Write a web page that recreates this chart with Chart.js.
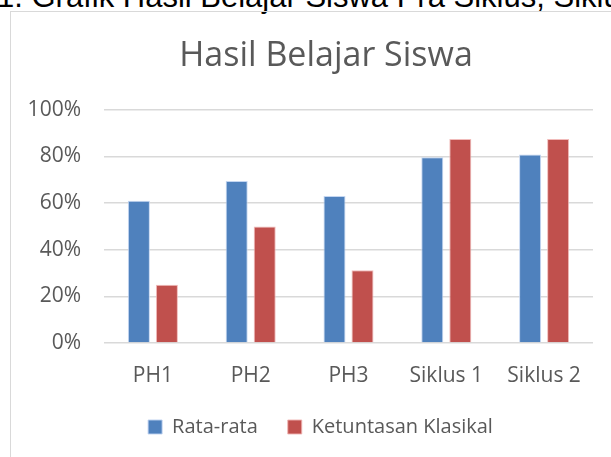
<!DOCTYPE html>
<html>
<head>
<meta charset="utf-8">
<script src="https://cdn.jsdelivr.net/npm/chart.js@4/dist/chart.umd.min.js"></script>
<style>
  html, body { margin: 0; padding: 0; background: #fff; overflow: hidden; }
  body { width: 611px; height: 457px; position: relative; }
  #caption {
    position: absolute; left: -3px; top: -19px; white-space: nowrap;
    font-family: "Liberation Sans", Arial, sans-serif; font-size: 31px; line-height: 31px; color: #000;
  }
  #frame {
    position: absolute; left: 10px; top: 11px; width: 700px; height: 500px;
    border-left: 1px solid #d9d9d9; border-top: 1px solid #d9d9d9;
  }
  #wrap { position: absolute; left: 0; top: 0; width: 642px; height: 457px; }
</style>
</head>
<body>
<div id="caption">1. Grafik Hasil Belajar Siswa Pra Siklus, Siklus I dan Siklus II</div>
<div id="frame"></div>
<div id="wrap"><canvas id="hasil-chart"></canvas></div>
<script>
// Data (fractions, shown as %)
const categories = ['PH1', 'PH2', 'PH3', 'Siklus 1', 'Siklus 2'];
const rataRata = [0.61, 0.695, 0.63, 0.797, 0.808];
const ketuntasan = [0.25, 0.50, 0.3125, 0.875, 0.875];
const yTicks = [0, 0.2, 0.4, 0.6, 0.8, 1.0];

const textColor = '#595959';
const fontFamily = '"Open Sans", "Noto Sans", sans-serif';

let hasilChart = null;

// nudge the legend a little to the left, like in the original
const legendShift = {
  id: 'legendShift',
  afterLayout(chart) {
    chart.legend.left -= 11;
  }
};

function initChart() {
  const ctx = document.getElementById('hasil-chart').getContext('2d');
  hasilChart = new Chart(ctx, {
    type: 'bar',
    data: {
      labels: categories,
      datasets: [{
        label: 'Rata-rata',
        data: rataRata,
        backgroundColor: '#4F81BD',
        borderColor: 'rgba(190,210,240,0.9)',
        borderWidth: 1
      }, {
        label: 'Ketuntasan Klasikal',
        data: ketuntasan,
        backgroundColor: '#C0504D',
        borderColor: 'rgba(240,180,178,0.9)',
        borderWidth: 1
      }]
    },
    options: {
      responsive: true,
      maintainAspectRatio: false,
      animation: false,
      datasets: {
        bar: { categoryPercentage: 0.573, barPercentage: 0.786 }
      },
      layout: { padding: { left: 10, right: 0, top: 0, bottom: 10 } },
      scales: {
        x: {
          afterFit: function(scale) { scale.height = 44; },
          grid: { display: false, drawTicks: false },
          border: { display: false },
          ticks: { color: textColor, font: { family: fontFamily, size: 21 }, padding: 20, maxRotation: 0 }
        },
        y: {
          min: 0,
          max: 1,
          afterFit: function(scale) { scale.width = 94; },
          afterBuildTicks: function(scale) { scale.ticks = yTicks.map(v => ({ value: v })); },
          grid: { color: '#d9d9d9', lineWidth: 1.5, drawTicks: false },
          border: { display: false },
          ticks: {
            color: textColor,
            font: { family: fontFamily, size: 21 },
            padding: 23,
            callback: function(value) { return Math.round(value * 100) + '%'; }
          }
        },
        // empty right-hand axis that only keeps space free right of the plot
        yRight: {
          position: 'right',
          display: true,
          afterFit: function(scale) { scale.width = 49; },
          grid: { display: false, drawTicks: false },
          border: { display: false },
          ticks: { display: false }
        }
      },
      plugins: {
        title: {
          display: true,
          text: 'Hasil Belajar Siswa',
          color: textColor,
          font: { family: fontFamily, size: 34, weight: 'normal' },
          padding: { top: 36, bottom: 33 }
        },
        legend: {
          position: 'bottom',
          labels: {
            color: textColor,
            font: { family: fontFamily, size: 20 },
            boxWidth: 14,
            boxHeight: 14,
            padding: 30
          }
        },
        tooltip: { enabled: false }
      }
    },
    plugins: [legendShift]
  });
}

window.onload = initChart;
</script>
</body>
</html>
